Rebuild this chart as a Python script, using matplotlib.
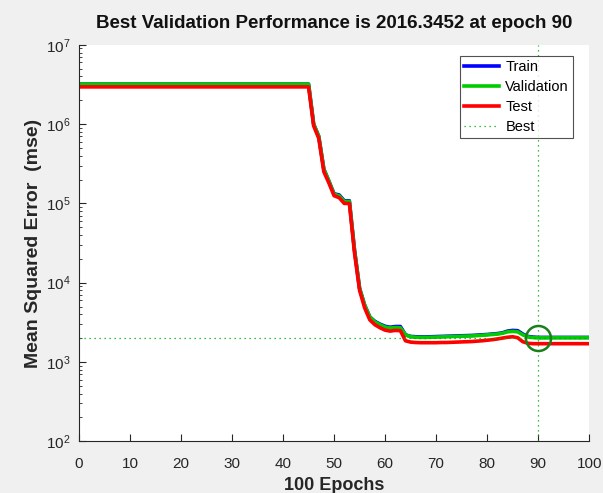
import matplotlib
matplotlib.use("Agg")
import matplotlib.pyplot as plt
import numpy as np

plt.rcParams['font.family'] = ['Liberation Sans', 'DejaVu Sans']

epochs = list(range(0, 101))

train = ([3.2e6] * 46 +
         [1.0e6, 7.0e5, 2.7e5, 1.9e5, 1.32e5, 1.28e5, 1.08e5, 1.08e5,
          2.6e4, 8.5e3, 5.2e3, 3.7e3, 3.25e3, 3.0e3, 2.82e3, 2.74e3, 2.80e3, 2.80e3,
          2.2e3, 2.1e3, 2.08e3, 2.07e3, 2.07e3, 2.08e3, 2.09e3, 2.10e3, 2.11e3, 2.12e3,
          2.13e3, 2.14e3, 2.15e3, 2.16e3, 2.18e3, 2.20e3, 2.22e3, 2.25e3, 2.28e3, 2.33e3,
          2.45e3, 2.50e3, 2.48e3, 2.25e3, 2.10e3, 2.06e3, 2.04e3,
          2.04e3, 2.04e3, 2.04e3, 2.04e3, 2.04e3, 2.04e3, 2.04e3, 2.04e3, 2.04e3, 2.04e3])

validation = ([3.2e6] * 46 +
              [1.0e6, 7.0e5, 2.7e5, 1.9e5, 1.3e5, 1.25e5, 1.06e5, 1.06e5,
               2.6e4, 8.5e3, 5.2e3, 3.7e3, 3.2e3, 2.95e3, 2.76e3, 2.68e3, 2.72e3, 2.70e3,
               2.2e3, 2.08e3, 2.05e3, 2.04e3, 2.04e3, 2.05e3, 2.06e3, 2.07e3, 2.08e3, 2.09e3,
               2.10e3, 2.11e3, 2.12e3, 2.13e3, 2.15e3, 2.17e3, 2.20e3, 2.22e3, 2.25e3, 2.30e3,
               2.40e3, 2.43e3, 2.40e3, 2.20e3, 2.07e3, 2.03e3, 2.0163452e3,
               2.02e3, 2.02e3, 2.02e3, 2.02e3, 2.02e3, 2.02e3, 2.02e3, 2.02e3, 2.02e3, 2.02e3])

test = ([2.95e6] * 46 +
        [9.5e5, 6.6e5, 2.5e5, 1.8e5, 1.25e5, 1.18e5, 1.0e5, 1.0e5,
         2.4e4, 8.0e3, 4.8e3, 3.4e3, 2.95e3, 2.7e3, 2.52e3, 2.45e3, 2.50e3, 2.48e3,
         1.85e3, 1.78e3, 1.76e3, 1.75e3, 1.75e3, 1.75e3, 1.75e3, 1.76e3, 1.76e3, 1.77e3,
         1.78e3, 1.79e3, 1.80e3, 1.81e3, 1.83e3, 1.85e3, 1.88e3, 1.91e3, 1.95e3, 2.00e3,
         2.05e3, 2.08e3, 2.02e3, 1.80e3, 1.72e3, 1.70e3, 1.70e3,
         1.70e3, 1.70e3, 1.70e3, 1.70e3, 1.70e3, 1.70e3, 1.70e3, 1.70e3, 1.70e3, 1.70e3])

best_epoch = 90
best_perf = 2016.3452
xticks = list(range(0, 101, 10))
yticks = [1e2, 1e3, 1e4, 1e5, 1e6, 1e7]

fig = plt.figure(figsize=(6.03, 4.93), dpi=100, facecolor='#f0f0f0')
ax = fig.add_axes([0.131, 0.105, 0.846, 0.804])
ax.set_facecolor('white')

ax.plot(epochs, train, color='#0000ff', lw=2.6, label='Train')
ax.plot(epochs, validation, color='#00cc00', lw=2.6, label='Validation')
ax.plot(epochs, test, color='#ff0000', lw=2.6, label='Test')
ax.axhline(best_perf, color='#00aa00', ls=(0, (1, 3)), lw=0.9, label='Best')
ax.axvline(best_epoch, color='#00aa00', ls=(0, (1, 3)), lw=0.9)
ax.plot([best_epoch], [best_perf], 'o', ms=18, mfc='none', mec='#1a801a', mew=1.8)

ax.set_yscale('log')
ax.set_xlim(0, 100)
ax.set_ylim(1e2, 1e7)
ax.set_xticks(xticks)
ax.set_yticks(yticks)
ax.tick_params(direction='in', length=5, labelsize=11, colors='#262626', labelcolor='#262626')
ax.tick_params(axis='x', pad=11)
ax.tick_params(axis='y', pad=6)
ax.tick_params(which='minor', direction='in', length=2.5, colors='#262626')
for s in ['top', 'right']:
    ax.spines[s].set_visible(False)
for s in ['left', 'bottom']:
    ax.spines[s].set_color('#262626')

ax.set_title('Best Validation Performance is 2016.3452 at epoch 90', fontsize=13.5, fontweight='bold',
             pad=12, color='#111111')
ax.set_xlabel('100 Epochs', fontsize=13, fontweight='bold', labelpad=5, color='#262626')
ax.set_ylabel('Mean Squared Error  (mse)', fontsize=14, fontweight='bold', labelpad=3, color='#262626')

leg = ax.legend(loc='upper right', bbox_to_anchor=(0.969, 0.972), fontsize=10.5, frameon=True, fancybox=False,
                handlelength=2.4, borderpad=0.3, labelspacing=0.4, handletextpad=0.4, borderaxespad=0)
leg.get_frame().set_edgecolor('#262626')
leg.get_frame().set_linewidth(0.8)

fig.savefig('out.png', dpi=100, facecolor=fig.get_facecolor())
